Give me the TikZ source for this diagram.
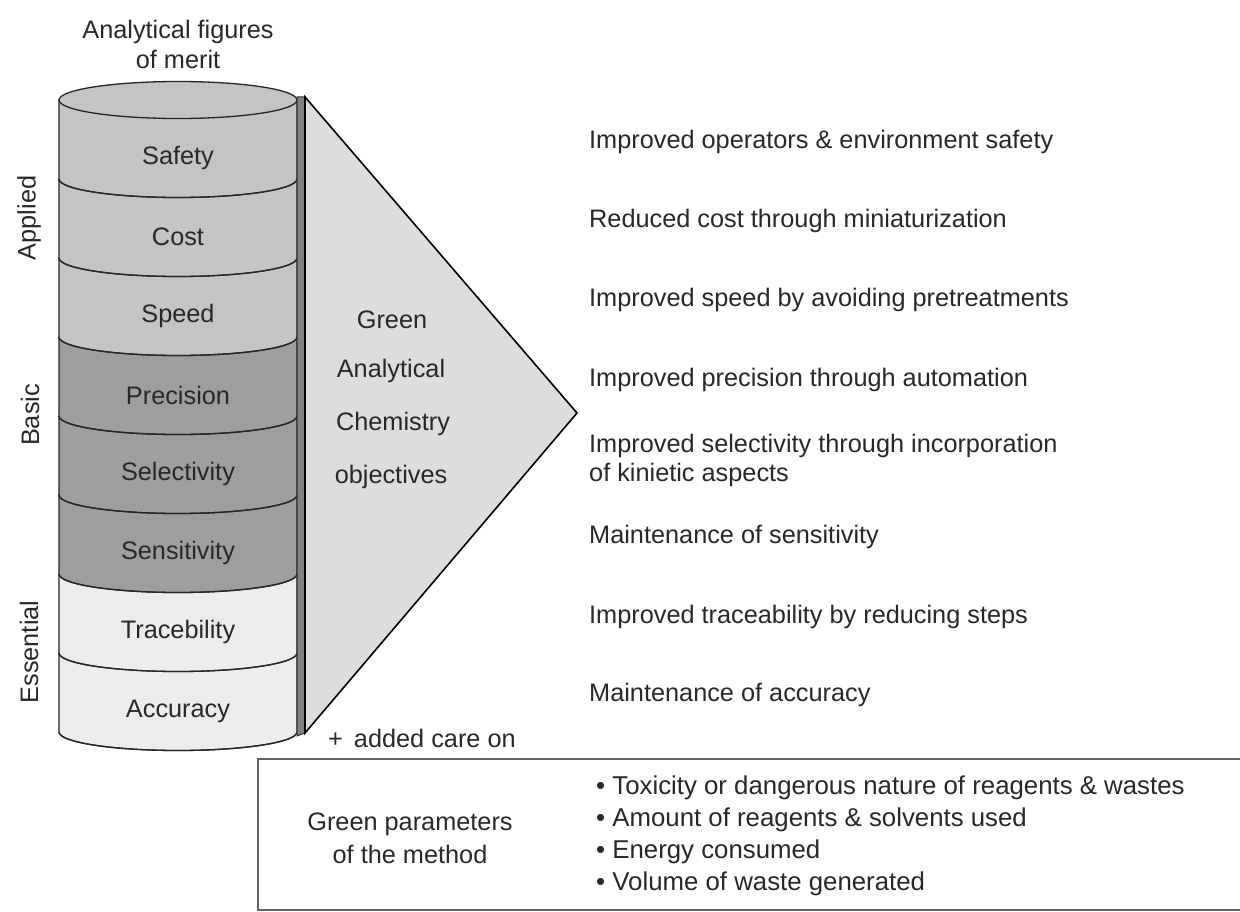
\documentclass[tikz,border=0pt]{standalone}
\usepackage{fontspec}
\setmainfont{Liberation Sans}
\definecolor{applied}{RGB}{196,196,196}
\definecolor{basic}{RGB}{158,158,158}
\definecolor{essential}{RGB}{236,236,236}
\definecolor{wedge}{RGB}{221,221,221}
\definecolor{strip}{RGB}{128,128,128}
\definecolor{txt}{RGB}{40,40,40}
\begin{document}
\begin{tikzpicture}[x=1pt,y=-1pt,
  every node/.style={font=\fontsize{25.3}{30}\selectfont, text=txt, inner sep=0pt},
  band/.style={draw=black!85, line width=1.3pt},
  lbl/.style={anchor=center},
  rtxt/.style={anchor=west, align=left},
  side/.style={rotate=90, anchor=center}]
\useasboundingbox (0,0) rectangle (1240,912);
\fill[white] (0,0) rectangle (1240,912);

% title
\node[align=center] (title) at (178,44) {Analytical figures\\of merit};

% cylinder bands, bottom to top
\def\cylL{59}\def\cylR{297}
\foreach \yt/\yb/\col in {653/732/essential, 574/653/essential, 495/574/basic, 416/495/basic, 337/416/basic, 258/337/applied, 179/258/applied, 100/179/applied}{
  \filldraw[band, fill=\col] (\cylL,\yt) -- (\cylL,\yb) arc[start angle=180, end angle=360, x radius=119pt, y radius=18.5pt] -- (\cylR,\yt) -- cycle;
  \draw[band] (\cylL,\yb) arc[start angle=180, end angle=360, x radius=119pt, y radius=18.5pt];
}
\filldraw[band, fill=applied] (178,100) ellipse[x radius=119pt, y radius=18.5pt];

% wedge strip and triangle
\filldraw[fill=strip, draw=black!80, line width=1pt] (297,97) -- (305,97) -- (305,733) -- (297,736) -- cycle;
\filldraw[fill=wedge, draw=black, line width=1.6pt] (305,97) -- (577,413) -- (305,733) -- cycle;

% band labels
\node[lbl] (safety) at (178,158) {Safety};
\node[lbl] (cost) at (178,237) {Cost};
\node[lbl] (speed) at (178,316) {Speed};
\node[lbl] (precision) at (178,395) {Precision};
\node[lbl] (selectivity) at (178,474) {Selectivity};
\node[lbl] (sensitivity) at (178,553) {Sensitivity};
\node[lbl] (trace) at (178,632) {Tracebility};
\node[lbl] (accuracy) at (178,711) {Accuracy};

% side labels
\node[side] (applied) at (29,218) {Applied};
\node[side] (basicl) at (30,415) {Basic};
\node[side] (essentiall) at (29,652) {Essential};

% triangle text
\node (g1) at (392,320) {Green};
\node (g2) at (391,371) {Analytical};
\node (g3) at (393,424) {Chemistry};
\node (g4) at (391,477) {objectives};

% right texts
\node[rtxt] (r1) at (589,142) {Improved operators \& environment safety};
\node[rtxt] (r2) at (589,221) {Reduced cost through miniaturization};
\node[rtxt] (r3) at (589,300) {Improved speed by avoiding pretreatments};
\node[rtxt] (r4) at (589,380) {Improved precision through automation};
\node[rtxt] (r5) at (589,460) {Improved selectivity through incorporation\\[-1pt]of kinietic aspects};
\node[rtxt] (r6) at (589,537) {Maintenance of sensitivity};
\node[rtxt] (r7) at (589,617) {Improved traceability by reducing steps};
\node[rtxt] (r8) at (589,695) {Maintenance of accuracy};

% added care
\node[rtxt] (care) at (328,738) {+\hspace{11pt}added care on};

% bottom box
\draw[draw=black!60, line width=1.5pt] (1250,759) -- (258,759) -- (258,910) -- (1250,910);
\node[align=center] (gp) at (410,838) {Green parameters\\[3pt]of the method};
\node[rtxt, align=left, font=\fontsize{25.8}{30}\selectfont] (bl) at (596,836) {\textbullet\ Toxicity or dangerous nature of reagents \& wastes\\[2pt]
\textbullet\ Amount of reagents \& solvents used\\[2pt]
\textbullet\ Energy consumed\\[2pt]
\textbullet\ Volume of waste generated};
\end{tikzpicture}
\end{document}
